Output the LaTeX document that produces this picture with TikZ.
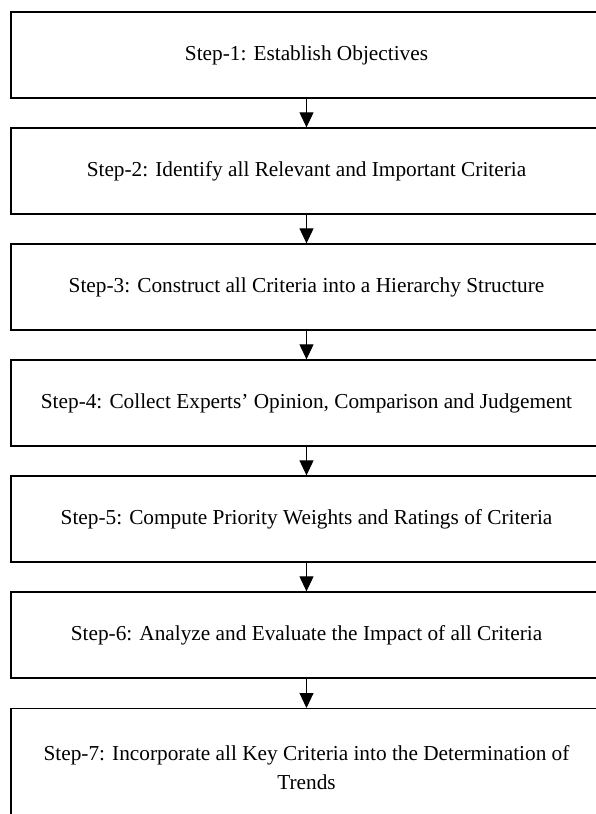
\documentclass[tikz,border=0pt]{standalone}
\usepackage{fontspec}
\setmainfont{Liberation Serif}
\usetikzlibrary{arrows.meta}

\begin{document}
\begin{tikzpicture}[x=1pt,y=-1pt,
  stepbox/.style={draw=black, line width=1.3pt, minimum width=591pt,
    minimum height=86pt, inner sep=0pt, align=center,
    font=\fontsize{21.3}{28.5}\selectfont},
  flow/.style={line width=1pt, -{Triangle[width=14pt,length=15pt]}}]
  \useasboundingbox (0,0) rectangle (596,814);
  \clip (0,0) rectangle (596,814);

  % the seven stages, 116pt apart
  \node[stepbox] (s1) at (306.5,55)  {Step-1: Establish Objectives};
  \node[stepbox] (s2) at (306.5,171) {Step-2: Identify all Relevant and Important Criteria};
  \node[stepbox] (s3) at (306.5,287) {Step-3: Construct all Criteria into a Hierarchy Structure};
  \node[stepbox] (s4) at (306.5,403) {Step-4: Collect Experts’ Opinion, Comparison and Judgement};
  \node[stepbox] (s5) at (306.5,519) {Step-5: Compute Priority Weights and Ratings of Criteria};
  \node[stepbox] (s6) at (306.5,635) {Step-6: Analyze and Evaluate the Impact of all Criteria};
  \node[stepbox, minimum height=118pt, anchor=north] (s7) at (306.5,708)
    {Step-7: Incorporate all Key Criteria into the Determination of\\Trends};

  % connectors between consecutive stages
  \draw[flow] (s1.south) -- (s2.north);
  \draw[flow] (s2.south) -- (s3.north);
  \draw[flow] (s3.south) -- (s4.north);
  \draw[flow] (s4.south) -- (s5.north);
  \draw[flow] (s5.south) -- (s6.north);
  \draw[flow] (s6.south) -- (s7.north);
\end{tikzpicture}
\end{document}
